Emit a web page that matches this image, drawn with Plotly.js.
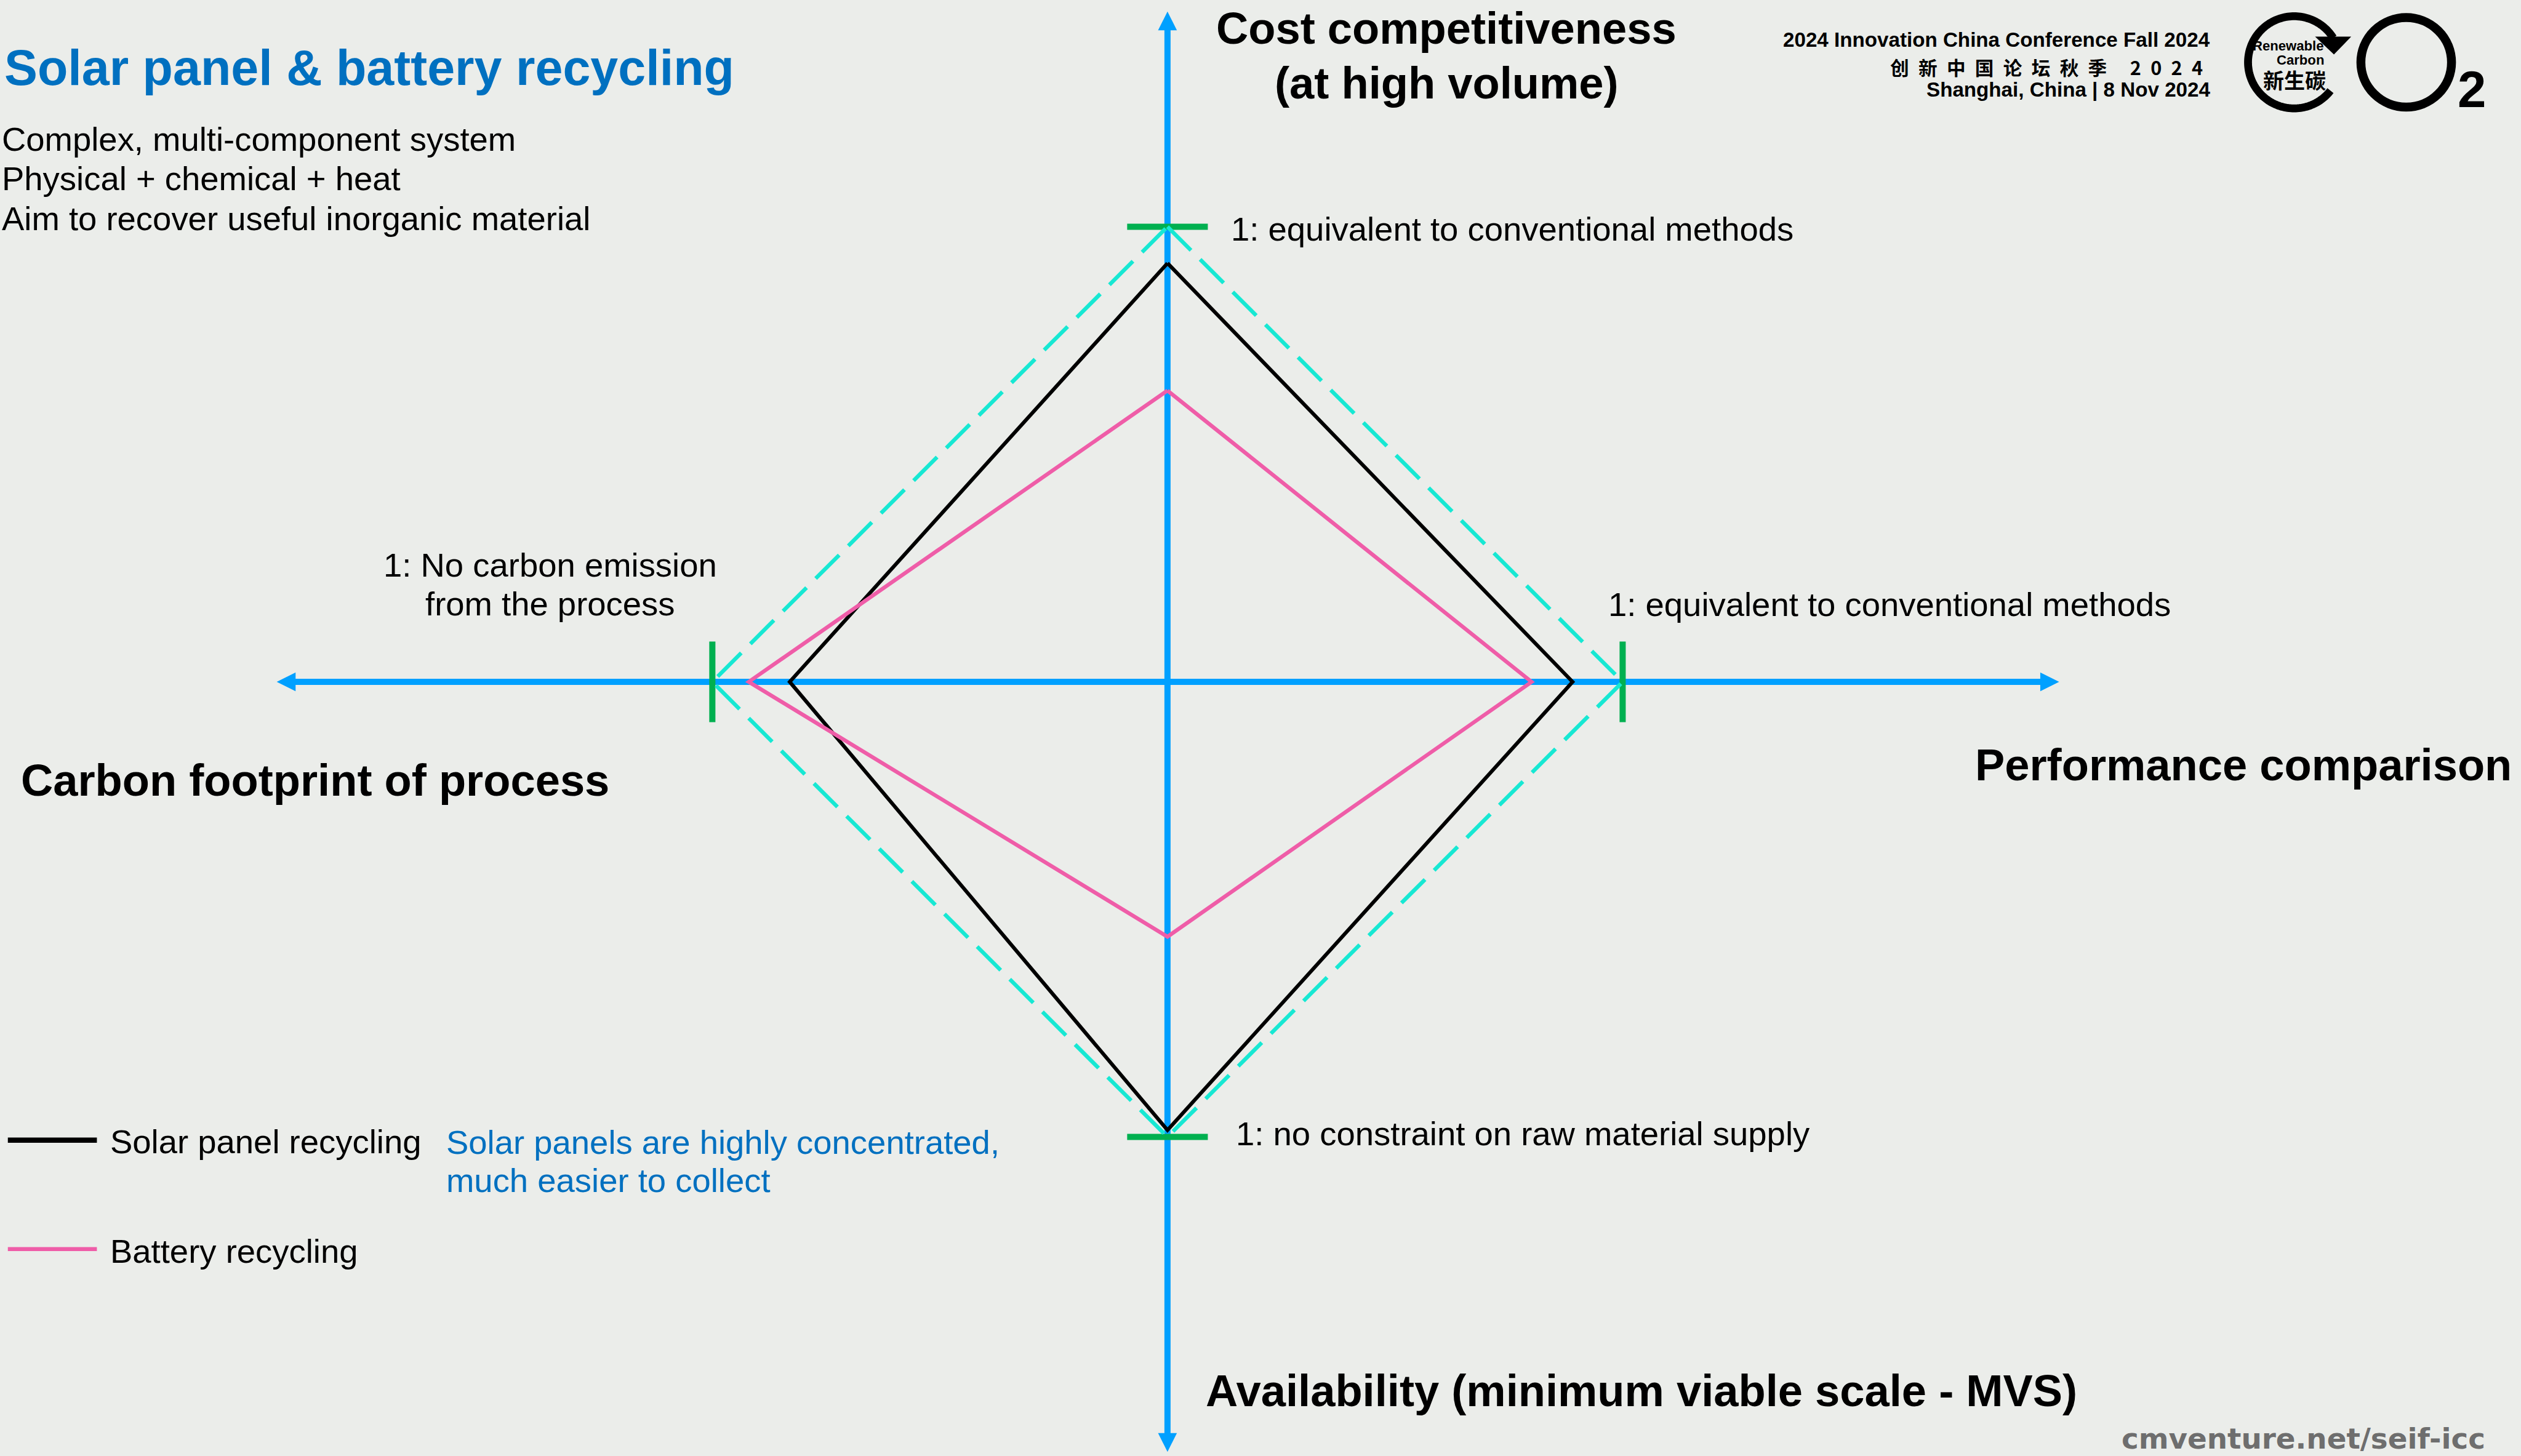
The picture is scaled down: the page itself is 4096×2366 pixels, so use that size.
<!DOCTYPE html>
<html><head><meta charset="utf-8">
<script src="https://cdn.plot.ly/plotly-3.0.1.min.js"></script>
<style>html,body{margin:0;padding:0;background:#EBEDEA;overflow:hidden}#chart{width:4096px;height:2366px}</style>
</head><body><div id="chart"></div>
<script>
// ---------------- data ----------------
const axisNames = ['Cost competitiveness', 'Performance comparison', 'Availability', 'Carbon footprint of process'];
const axisAngles = [90, 0, 270, 180];           // spoke directions (degrees)
const solarPanelRecycling = [0.92, 0.89, 0.985, 0.83];
const batteryRecycling = [0.64, 0.80, 0.56, 0.92];
const conventionalBenchmark = [1, 1, 1, 1];
const seriesNames = ['Solar panel recycling', 'Battery recycling'];
const axisTitles = ['<b>Cost competitiveness</b>', '<b>(at high volume)</b>', '<b>Performance comparison</b>',
  '<b>Availability (minimum viable scale - MVS)</b>', '<b>Carbon footprint of process</b>'];
const benchmarkLabels = ['1: equivalent to conventional methods', '1: equivalent to conventional methods',
  '1: no constraint on raw material supply', '1: No carbon emission', 'from the process'];
const titleText = '<b>Solar panel &amp; battery recycling</b>';
const subtitleLines = ['Complex, multi-component system', 'Physical + chemical + heat', 'Aim to recover useful inorganic material'];
const noteLines = ['Solar panels are highly concentrated,', 'much easier to collect'];
const headerLines = ['2024 Innovation China Conference Fall 2024',
  '创\u2002新\u2002中\u2002国\u2002论\u2002坛\u2002秋\u2002季\u2003 2\u20020\u20022\u20024',
  'Shanghai, China | 8 Nov 2024'];
const footerText = 'cmventure.net/seif-icc';

// ---------------- geometry / style ----------------
const S = 0.851, W = 4096, H = 2366;
const CX = 2229 * S, CY = 1302 * S, U = 869 * S;
const X0 = -CX / U, X1 = (W - CX) / U, Y0 = -(H - CY) / U, Y1 = CY / U;
const AXIS_REACH = [1.473, 1.959, 1.692, 1.957];
const ARROW_LEN = 36 * S / U, ARROW_HW = 18 * S / U;
const TICK_HALF = 77 * S / U;
const BG = '#EBEDEA', BLUE = '#00A0FF', GREEN = '#00B050', CYAN = '#17E8D3', PINK = '#EF5DA8', NOTE = '#0070C0';
const FONT = 'Liberation Sans, Arial, Helvetica, sans-serif';
const CJK = 'Noto Sans CJK SC, Liberation Sans, sans-serif';

function dx(px) { return (px * S - CX) / U; }
function dy(py) { return (CY - py * S) / U; }
const rad = a => a * Math.PI / 180;

function polygon(values) {
  const x = [], y = [];
  values.forEach((v, i) => { const a = rad(axisAngles[i]); x.push(v * Math.cos(a)); y.push(v * Math.sin(a)); });
  x.push(x[0]); y.push(y[0]);
  return {x, y};
}

// ---------------- shapes ----------------
const shapes = [];
axisAngles.forEach((ang, i) => {
  const c = Math.cos(rad(ang)), s = Math.sin(rad(ang)), r = AXIS_REACH[i];
  const rb = r - ARROW_LEN * 0.8;
  shapes.push({type: 'line', xref: 'x', yref: 'y', x0: 0, y0: 0, x1: rb * c, y1: rb * s,
    line: {color: BLUE, width: 10}, layer: 'below'});
  const bx = (r - ARROW_LEN) * c, by = (r - ARROW_LEN) * s;
  shapes.push({type: 'path', xref: 'x', yref: 'y', layer: 'below', fillcolor: BLUE, line: {width: 0},
    path: `M${r * c},${r * s} L${bx - s * ARROW_HW},${by + c * ARROW_HW} L${bx + s * ARROW_HW},${by - c * ARROW_HW} Z`});
});
axisAngles.forEach((ang, i) => {
  const c = Math.cos(rad(ang)), s = Math.sin(rad(ang)), v = conventionalBenchmark[i];
  shapes.push({type: 'line', xref: 'x', yref: 'y', layer: 'below',
    x0: v * c - s * TICK_HALF, y0: v * s + c * TICK_HALF, x1: v * c + s * TICK_HALF, y1: v * s - c * TICK_HALF,
    line: {color: GREEN, width: 10}});
});
// legend samples
shapes.push({type: 'line', xref: 'x', yref: 'y', x0: dx(15), x1: dx(185), y0: dy(2177), y1: dy(2177), line: {color: '#000', width: 8.5}});
shapes.push({type: 'line', xref: 'x', yref: 'y', x0: dx(15), x1: dx(185), y0: dy(2385), y1: dy(2385), line: {color: PINK, width: 6.5}});
// logo ring with arrow
(function () {
  const cx = 4380, cy = 119, r = 88; let p = '';
  for (let t = -38; t >= -328; t -= 2) {
    const px = cx + r * Math.cos(rad(t)), py = cy - r * Math.sin(rad(t));
    p += (p ? ' L' : 'M') + dx(px) + ',' + dy(py);
  }
  shapes.push({type: 'path', xref: 'x', yref: 'y', path: p, line: {color: '#000', width: 15 * S}});
  shapes.push({type: 'path', xref: 'x', yref: 'y', fillcolor: '#000', line: {width: 0},
    path: `M${dx(4420)},${dy(70)} L${dx(4489)},${dy(70)} L${dx(4456)},${dy(104)} Z`});
  // the "O" of O2
  shapes.push({type: 'circle', xref: 'x', yref: 'y', x0: dx(4594 - 86.5), x1: dx(4594 + 86.5),
    y0: dy(119 + 85.5), y1: dy(119 - 85.5), line: {color: '#000', width: 17 * S}});
})();

// ---------------- annotations ----------------
function txt(text, x, base, size, o = {}) {
  const f = size * S;
  const yPx = base * S - 0.3465 * f;
  return {text, xref: 'paper', yref: 'paper', x: x * S / W, y: 1 - yPx / H,
    xanchor: o.anchor || 'left', yanchor: 'middle', showarrow: false, borderpad: 0, borderwidth: 0,
    font: {family: o.family || FONT, size: f, color: o.color || '#000000'}};
}
const annotations = [
  txt(titleText, 8, 162, 95, {color: NOTE}),
  txt(subtitleLines[0], 4, 288, 64), txt(subtitleLines[1], 4, 363, 64), txt(subtitleLines[2], 4, 440, 64),
  txt(axisTitles[0], 2762, 83, 85, {anchor: 'center'}),
  txt(axisTitles[1], 2762, 188, 85, {anchor: 'center'}),
  txt(axisTitles[2], 4795, 1490, 85, {anchor: 'right'}),
  txt(axisTitles[3], 2302, 2685, 85),
  txt(axisTitles[4], 40, 1519, 85),
  txt(benchmarkLabels[0], 2350, 460, 64),
  txt(benchmarkLabels[1], 3071, 1177, 64),
  txt(benchmarkLabels[2], 2360, 2187, 64),
  txt(benchmarkLabels[3], 1050, 1102, 64, {anchor: 'center'}),
  txt(benchmarkLabels[4], 1050, 1176, 64, {anchor: 'center'}),
  txt(seriesNames[0], 210, 2202, 64),
  txt(seriesNames[1], 210, 2412, 64),
  txt(noteLines[0], 852, 2204, 64, {color: NOTE}),
  txt(noteLines[1], 852, 2277, 64, {color: NOTE}),
  txt('<b>' + headerLines[0] + '</b>', 4220, 89, 39, {anchor: 'right'}),
  txt('<b>' + headerLines[1] + '</b>', 4206, 140, 36, {anchor: 'right', family: CJK}),
  txt('<b>' + headerLines[2] + '</b>', 4220, 185, 39, {anchor: 'right'}),
  txt('<b>Renewable</b>', 4437, 97, 26, {anchor: 'right'}),
  txt('<b>Carbon</b>', 4437, 124, 26, {anchor: 'right'}),
  txt('<b>新生碳</b>', 4381, 166, 40, {anchor: 'center', family: CJK}),
  txt('<b>2</b>', 4719, 205, 98, {anchor: 'center'}),
  txt('<b>' + footerText + '</b>', 4051, 2767, 55, {family: 'DejaVu Sans, sans-serif', color: '#6E6E6E'})
];

// ---------------- traces ----------------
const bench = polygon(conventionalBenchmark), solar = polygon(solarPanelRecycling), batt = polygon(batteryRecycling);
const data = [
  {type: 'scatter', mode: 'lines', x: bench.x, y: bench.y, name: 'Conventional (1)',
    line: {color: CYAN, width: 6.4, dash: '54px,21px'}},
  {type: 'scatter', mode: 'lines', x: solar.x, y: solar.y, name: seriesNames[0], line: {color: '#000000', width: 6}},
  {type: 'scatter', mode: 'lines', x: batt.x, y: batt.y, name: seriesNames[1], line: {color: PINK, width: 6.3}}
];

const layout = {
  width: W, height: H, margin: {l: 0, r: 0, t: 0, b: 0, pad: 0},
  paper_bgcolor: BG, plot_bgcolor: BG,
  xaxis: {range: [X0, X1], visible: false, fixedrange: true},
  yaxis: {range: [Y0, Y1], visible: false, fixedrange: true},
  showlegend: false, hovermode: false, shapes, annotations
};
Plotly.newPlot('chart', data, layout, {staticPlot: true, displayModeBar: false});
</script>
</body></html>
